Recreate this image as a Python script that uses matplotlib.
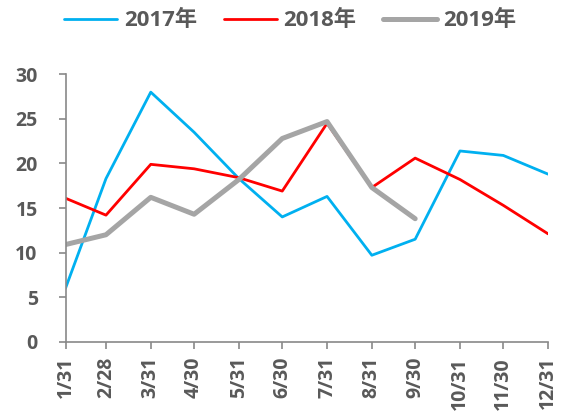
import matplotlib.pyplot as plt
import matplotlib.dates as mdates
import numpy as np
import datetime as dt

plt.rcParams['font.family'] = ['Open Sans', 'Noto Sans CJK SC', 'DejaVu Sans']

# month-end dates (axis is a date axis, so spacing follows day count)
dates = ["2019-01-31", "2019-02-28", "2019-03-31", "2019-04-30", "2019-05-31", "2019-06-30",
         "2019-07-31", "2019-08-31", "2019-09-30", "2019-10-31", "2019-11-30", "2019-12-31"]
tick_labels = ["1/31", "2/28", "3/31", "4/30", "5/31", "6/30",
               "7/31", "8/31", "9/30", "10/31", "11/30", "12/31"]

y2017 = [6.0, 18.3, 28.0, 23.5, 18.3, 14.0, 16.3, 9.7, 11.5, 21.4, 20.9, 18.8]
y2018 = [16.1, 14.2, 19.9, 19.4, 18.4, 16.9, 24.5, 17.3, 20.6, 18.2, 15.3, 12.1]
y2019 = [10.9, 12.0, 16.2, 14.3, 18.2, 22.8, 24.7, 17.3, 13.8]

x = [dt.datetime.strptime(d, "%Y-%m-%d") for d in dates]

fig = plt.figure(figsize=(5.61, 4.18), dpi=100)
ax = fig.add_axes([0.1168, 0.1825, 0.977 - 0.1168, 0.8222 - 0.1825])

ax.plot(x, y2017, color='#00B0F0', lw=2.0, label='2017年', solid_capstyle='round')
ax.plot(x, y2018, color='#FF0000', lw=2.0, label='2018年', solid_capstyle='round')
ax.plot(x[:len(y2019)], y2019, color='#A5A5A5', lw=3.6, label='2019年', solid_capstyle='round')

ax.set_xlim(x[0], x[-1])
ax.set_ylim(0, 30)
ax.set_yticks(np.arange(0, 31, 5))
ax.set_xticks(x)
ax.set_xticklabels(tick_labels, rotation=90)

for s in ['top', 'right']:
    ax.spines[s].set_visible(False)
for s in ['left', 'bottom']:
    ax.spines[s].set_color('#898989')
    ax.spines[s].set_linewidth(1.2)

ax.tick_params(axis='y', length=5, width=1.2, color='#898989', pad=15,
               labelsize=14, labelcolor='#595959')
ax.tick_params(axis='x', length=5, width=1.2, color='#898989', pad=6,
               labelsize=14, labelcolor='#595959')
for lab in ax.get_xticklabels() + ax.get_yticklabels():
    lab.set_fontweight('bold')

fig.legend(loc='center', bbox_to_anchor=(0.517, 0.95), ncol=3, frameon=False,
           prop={'size': 16, 'weight': 'bold'}, labelcolor='#595959',
           handlelength=2.4, handletextpad=0.3, columnspacing=1.2)

fig.savefig('out.png', dpi=100)
